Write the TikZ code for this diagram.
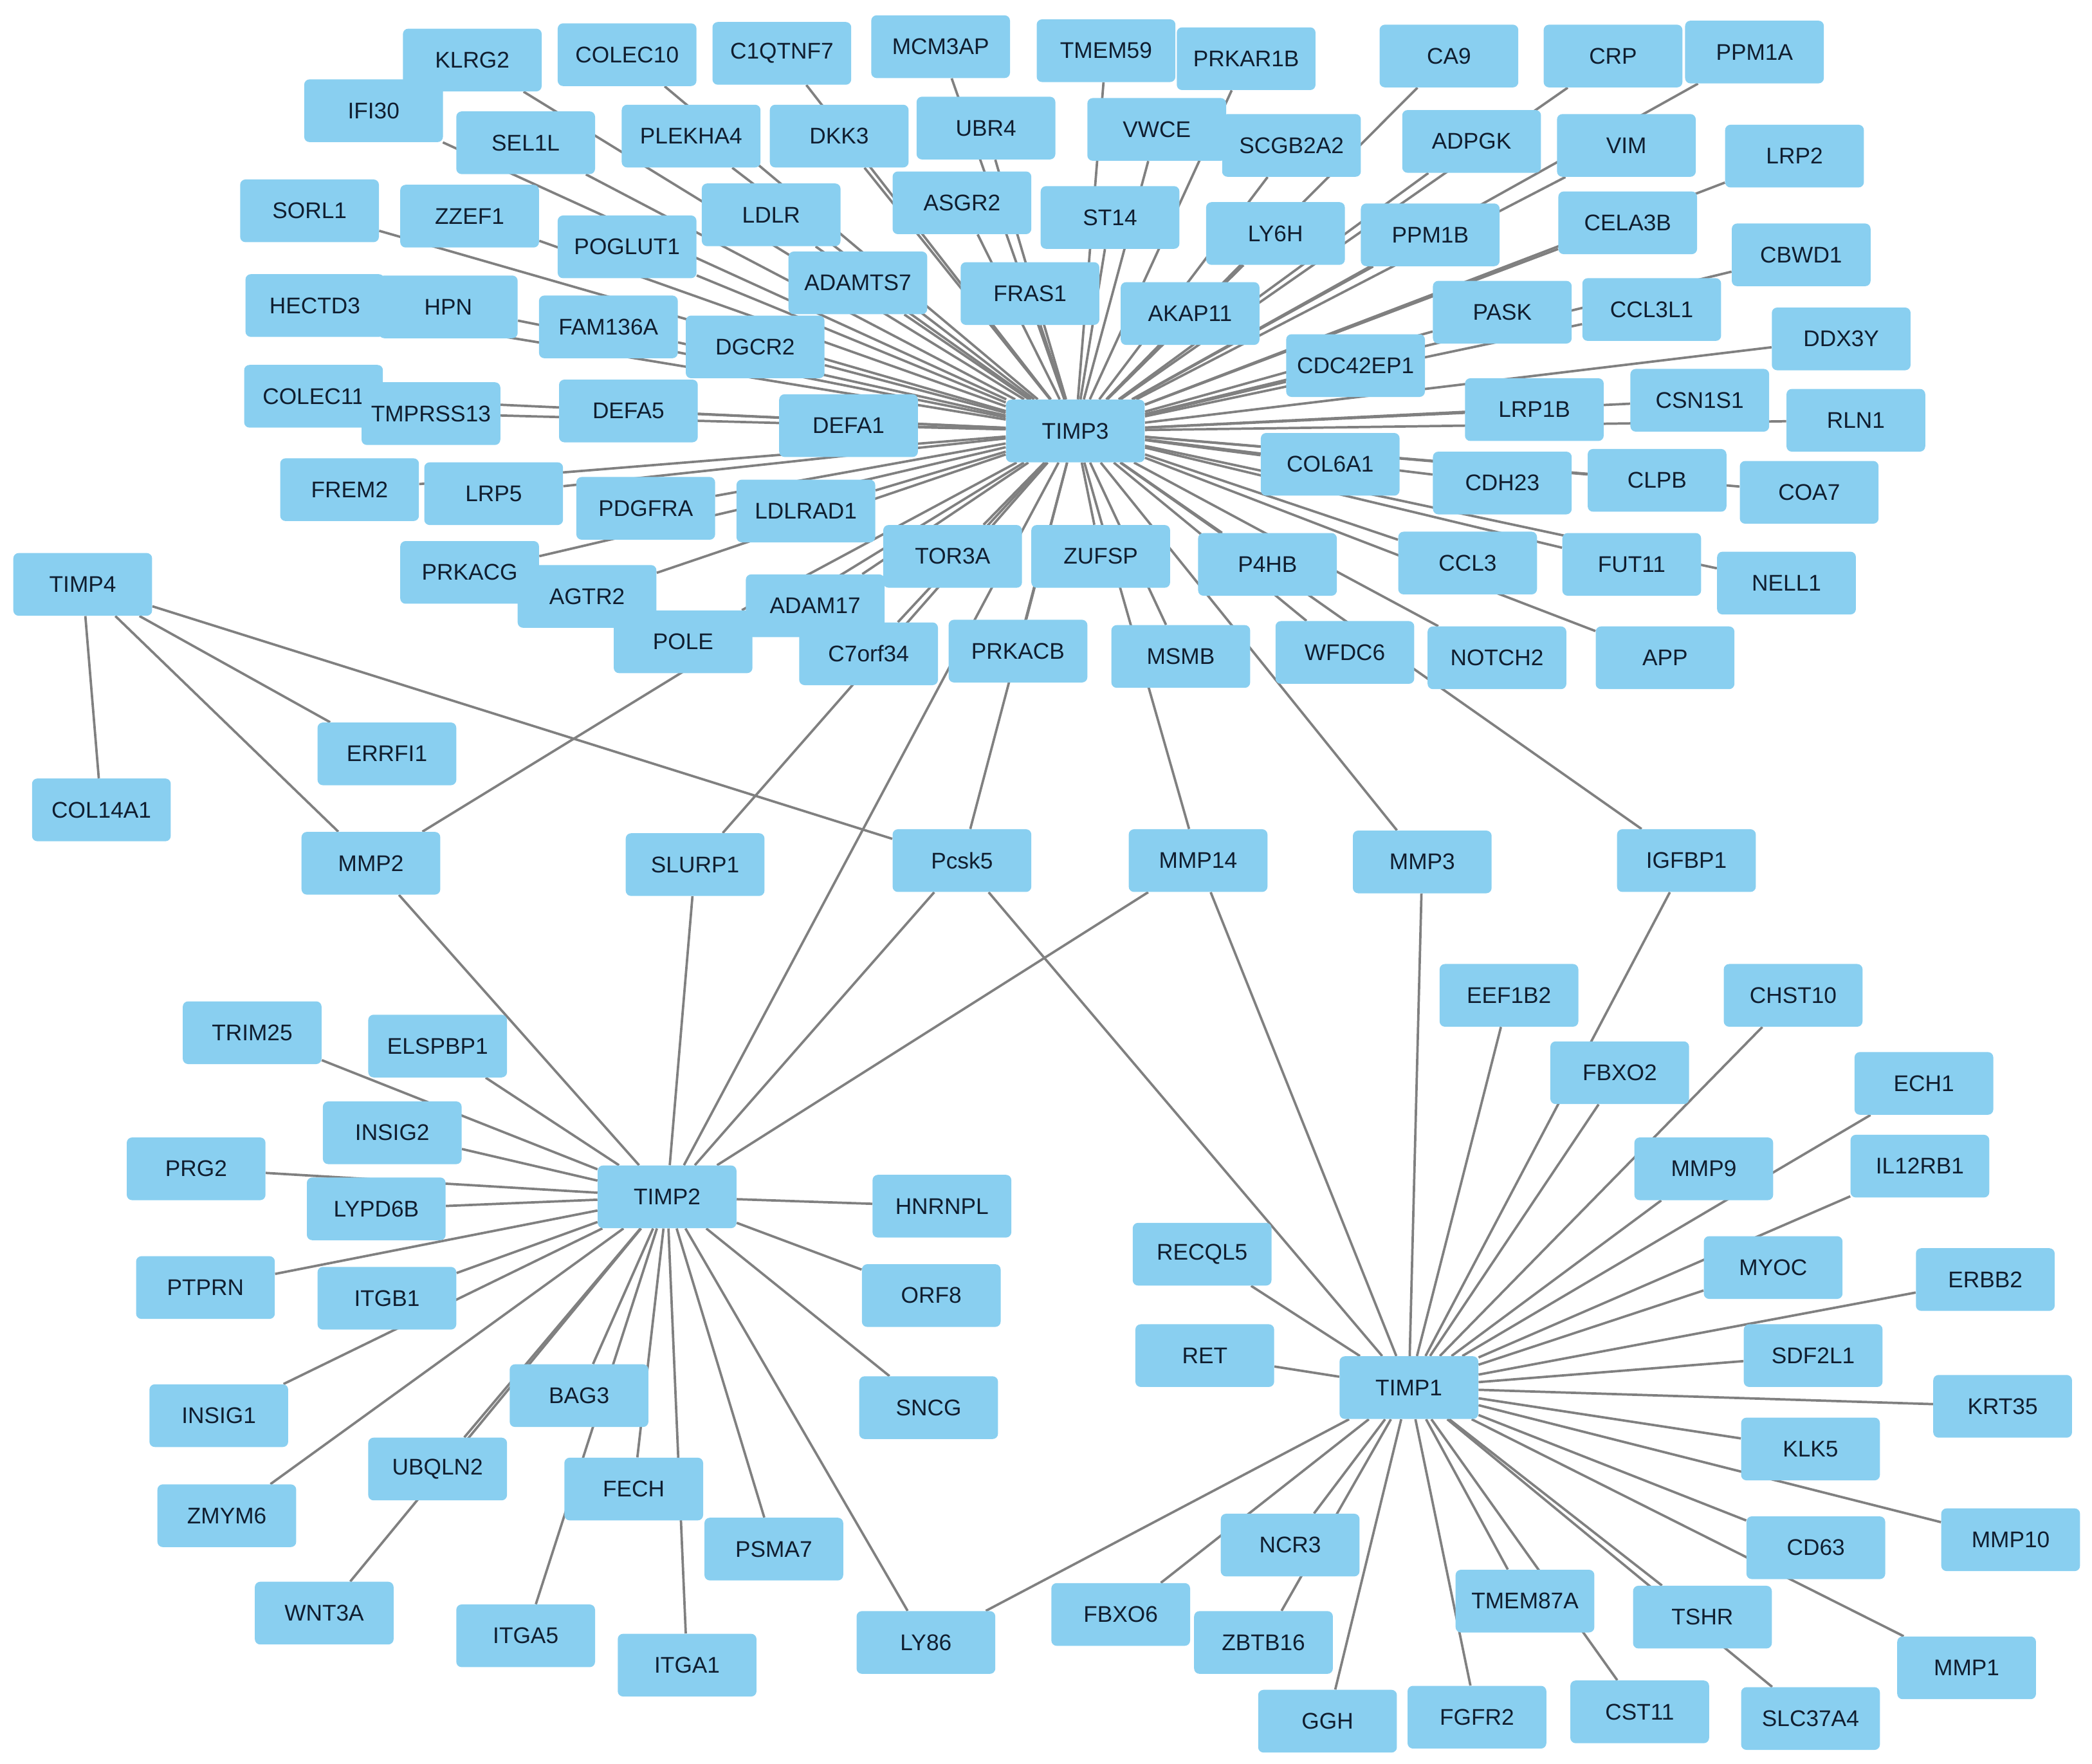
\documentclass[tikz,border=0pt]{standalone}
\usepackage{fontspec}
\setmainfont{Liberation Sans}
\usetikzlibrary{backgrounds}

\definecolor{genefill}{RGB}{137,207,240}
\definecolor{genetext}{RGB}{16,30,48}
\definecolor{linkgray}{RGB}{128,128,128}

\begin{document}
\begin{tikzpicture}[x=1pt, y=-1pt,
    gene/.style={rectangle, rounded corners=4pt, fill=genefill, text=genetext,
                 minimum width=104pt, minimum height=47pt, inner sep=0pt,
                 font=\fontsize{17}{20}\selectfont},
    link/.style={every edge/.style={draw=linkgray, line width=1.8pt}}]
    \useasboundingbox (0,0) rectangle (1568,1322);

    % Nodes {TIMP3 and its partners}
    \node [gene] (TIMP3)    at (806,323)  {TIMP3};
    \node [gene] (IFI30)    at (280,83)   {IFI30};
    \node [gene] (KLRG2)    at (354,45)   {KLRG2};
    \node [gene] (COLEC10)  at (470,41)   {COLEC10};
    \node [gene] (C1QTNF7)  at (586,40)   {C1QTNF7};
    \node [gene] (MCM3AP)   at (705,35)   {MCM3AP};
    \node [gene] (TMEM59)   at (829,38)   {TMEM59};
    \node [gene] (PRKAR1B)  at (934,44)   {PRKAR1B};
    \node [gene] (CA9)      at (1086,42)  {CA9};
    \node [gene] (CRP)      at (1209,42)  {CRP};
    \node [gene] (PPM1A)    at (1315,39)  {PPM1A};
    \node [gene] (SEL1L)    at (394,107)  {SEL1L};
    \node [gene] (PLEKHA4)  at (518,102)  {PLEKHA4};
    \node [gene] (DKK3)     at (629,102)  {DKK3};
    \node [gene] (UBR4)     at (739,96)   {UBR4};
    \node [gene] (VWCE)     at (867,97)   {VWCE};
    \node [gene] (SCGB2A2)  at (968,109)  {SCGB2A2};
    \node [gene] (ADPGK)    at (1103,106) {ADPGK};
    \node [gene] (VIM)      at (1219,109) {VIM};
    \node [gene] (LRP2)     at (1345,117) {LRP2};
    \node [gene] (SORL1)    at (232,158)  {SORL1};
    \node [gene] (ZZEF1)    at (352,162)  {ZZEF1};
    \node [gene] (POGLUT1)  at (470,185)  {POGLUT1};
    \node [gene] (LDLR)     at (578,161)  {LDLR};
    \node [gene] (ASGR2)    at (721,152)  {ASGR2};
    \node [gene] (ST14)     at (832,163)  {ST14};
    \node [gene] (LY6H)     at (956,175)  {LY6H};
    \node [gene] (PPM1B)    at (1072,176) {PPM1B};
    \node [gene] (CELA3B)   at (1220,167) {CELA3B};
    \node [gene] (CBWD1)    at (1350,191) {CBWD1};
    \node [gene] (HECTD3)   at (236,229)  {HECTD3};
    \node [gene] (HPN)      at (336,230)  {HPN};
    \node [gene] (FAM136A)  at (456,245)  {FAM136A};
    \node [gene] (ADAMTS7)  at (643,212)  {ADAMTS7};
    \node [gene] (FRAS1)    at (772,220)  {FRAS1};
    \node [gene] (AKAP11)   at (892,235)  {AKAP11};
    \node [gene] (DGCR2)    at (566,260)  {DGCR2};
    \node [gene] (CDC42EP1) at (1016,274) {CDC42EP1};
    \node [gene] (PASK)     at (1126,234) {PASK};
    \node [gene] (CCL3L1)   at (1238,232) {CCL3L1};
    \node [gene] (DDX3Y)    at (1380,254) {DDX3Y};
    \node [gene] (COLEC11)  at (235,297)  {COLEC11};
    \node [gene] (TMPRSS13) at (323,310)  {TMPRSS13};
    \node [gene] (DEFA5)    at (471,308)  {DEFA5};
    \node [gene] (DEFA1)    at (636,319)  {DEFA1};
    \node [gene] (LRP1B)    at (1150,307) {LRP1B};
    \node [gene] (CSN1S1)   at (1274,300) {CSN1S1};
    \node [gene] (RLN1)     at (1391,315) {RLN1};
    \node [gene] (COL6A1)   at (997,348)  {COL6A1};
    \node [gene] (CDH23)    at (1126,362) {CDH23};
    \node [gene] (CLPB)     at (1242,360) {CLPB};
    \node [gene] (COA7)     at (1356,369) {COA7};
    \node [gene] (FREM2)    at (262,367)  {FREM2};
    \node [gene] (LRP5)     at (370,370)  {LRP5};
    \node [gene] (PDGFRA)   at (484,381)  {PDGFRA};
    \node [gene] (LDLRAD1)  at (604,383)  {LDLRAD1};
    \node [gene] (PRKACG)   at (352,429)  {PRKACG};
    \node [gene] (AGTR2)    at (440,447)  {AGTR2};
    \node [gene] (TOR3A)    at (714,417)  {TOR3A};
    \node [gene] (ZUFSP)    at (825,417)  {ZUFSP};
    \node [gene] (P4HB)     at (950,423)  {P4HB};
    \node [gene] (CCL3)     at (1100,422) {CCL3};
    \node [gene] (FUT11)    at (1223,423) {FUT11};
    \node [gene] (NELL1)    at (1339,437) {NELL1};
    \node [gene] (ADAM17)   at (611,454)  {ADAM17};
    \node [gene] (POLE)     at (512,481)  {POLE};
    \node [gene] (C7orf34)  at (651,490)  {C7orf34};
    \node [gene] (PRKACB)   at (763,488)  {PRKACB};
    \node [gene] (MSMB)     at (885,492)  {MSMB};
    \node [gene] (WFDC6)    at (1008,489) {WFDC6};
    \node [gene] (NOTCH2)   at (1122,493) {NOTCH2};
    \node [gene] (APP)      at (1248,493) {APP};

    % Nodes {linking row}
    \node [gene] (TIMP4)    at (62,438)   {TIMP4};
    \node [gene] (ERRFI1)   at (290,565)  {ERRFI1};
    \node [gene] (COL14A1)  at (76,607)   {COL14A1};
    \node [gene] (MMP2)     at (278,647)  {MMP2};
    \node [gene] (SLURP1)   at (521,648)  {SLURP1};
    \node [gene] (Pcsk5)    at (721,645)  {Pcsk5};
    \node [gene] (MMP14)    at (898,645)  {MMP14};
    \node [gene] (MMP3)     at (1066,646) {MMP3};
    \node [gene] (IGFBP1)   at (1264,645) {IGFBP1};

    % Nodes {TIMP2 and its partners}
    \node [gene] (TIMP2)    at (500,897)  {TIMP2};
    \node [gene] (TRIM25)   at (189,774)  {TRIM25};
    \node [gene] (ELSPBP1)  at (328,784)  {ELSPBP1};
    \node [gene] (INSIG2)   at (294,849)  {INSIG2};
    \node [gene] (PRG2)     at (147,876)  {PRG2};
    \node [gene] (LYPD6B)   at (282,906)  {LYPD6B};
    \node [gene] (HNRNPL)   at (706,904)  {HNRNPL};
    \node [gene] (PTPRN)    at (154,965)  {PTPRN};
    \node [gene] (ITGB1)    at (290,973)  {ITGB1};
    \node [gene] (ORF8)     at (698,971)  {ORF8};
    \node [gene] (BAG3)     at (434,1046) {BAG3};
    \node [gene] (INSIG1)   at (164,1061) {INSIG1};
    \node [gene] (SNCG)     at (696,1055) {SNCG};
    \node [gene] (UBQLN2)   at (328,1101) {UBQLN2};
    \node [gene] (FECH)     at (475,1116) {FECH};
    \node [gene] (ZMYM6)    at (170,1136) {ZMYM6};
    \node [gene] (PSMA7)    at (580,1161) {PSMA7};
    \node [gene] (WNT3A)    at (243,1209) {WNT3A};
    \node [gene] (ITGA5)    at (394,1226) {ITGA5};
    \node [gene] (ITGA1)    at (515,1248) {ITGA1};
    \node [gene] (LY86)     at (694,1231) {LY86};

    % Nodes {TIMP1 and its partners}
    \node [gene] (TIMP1)    at (1056,1040) {TIMP1};
    \node [gene] (EEF1B2)   at (1131,746)  {EEF1B2};
    \node [gene] (CHST10)   at (1344,746)  {CHST10};
    \node [gene] (FBXO2)    at (1214,804)  {FBXO2};
    \node [gene] (ECH1)     at (1442,812)  {ECH1};
    \node [gene] (MMP9)     at (1277,876)  {MMP9};
    \node [gene] (IL12RB1)  at (1439,874)  {IL12RB1};
    \node [gene] (RECQL5)   at (901,940)   {RECQL5};
    \node [gene] (MYOC)     at (1329,950)  {MYOC};
    \node [gene] (ERBB2)    at (1488,959)  {ERBB2};
    \node [gene] (RET)      at (903,1016)  {RET};
    \node [gene] (SDF2L1)   at (1359,1016) {SDF2L1};
    \node [gene] (KRT35)    at (1501,1054) {KRT35};
    \node [gene] (KLK5)     at (1357,1086) {KLK5};
    \node [gene] (NCR3)     at (967,1158)  {NCR3};
    \node [gene] (CD63)     at (1361,1160) {CD63};
    \node [gene] (MMP10)    at (1507,1154) {MMP10};
    \node [gene] (FBXO6)    at (840,1210)  {FBXO6};
    \node [gene] (ZBTB16)   at (947,1231)  {ZBTB16};
    \node [gene] (TMEM87A)  at (1143,1200) {TMEM87A};
    \node [gene] (TSHR)     at (1276,1212) {TSHR};
    \node [gene] (MMP1)     at (1474,1250) {MMP1};
    \node [gene] (GGH)      at (995,1290)  {GGH};
    \node [gene] (FGFR2)    at (1107,1287) {FGFR2};
    \node [gene] (CST11)    at (1229,1283) {CST11};
    \node [gene] (SLC37A4)  at (1357,1288) {SLC37A4};

    % Paths
    \begin{pgfonlayer}{background}
    \path [link] (TIMP3) edge (IFI30) edge (KLRG2) edge (COLEC10) edge (C1QTNF7)
        edge (MCM3AP) edge (TMEM59) edge (PRKAR1B) edge (CA9) edge (CRP) edge (PPM1A)
        edge (SEL1L) edge (PLEKHA4) edge (DKK3) edge (UBR4) edge (VWCE) edge (SCGB2A2)
        edge (ADPGK) edge (VIM) edge (LRP2) edge (SORL1) edge (ZZEF1) edge (POGLUT1)
        edge (LDLR) edge (ASGR2) edge (ST14) edge (LY6H) edge (PPM1B) edge (CELA3B)
        edge (CBWD1) edge (HECTD3) edge (HPN) edge (FAM136A) edge (ADAMTS7) edge (FRAS1)
        edge (AKAP11) edge (DGCR2) edge (CDC42EP1) edge (PASK) edge (CCL3L1) edge (DDX3Y)
        edge (COLEC11) edge (TMPRSS13) edge (DEFA5) edge (DEFA1) edge (LRP1B)
        edge (CSN1S1) edge (RLN1) edge (COL6A1) edge (CDH23) edge (CLPB) edge (COA7)
        edge (FREM2) edge (LRP5) edge (PDGFRA) edge (LDLRAD1) edge (PRKACG) edge (AGTR2)
        edge (TOR3A) edge (ZUFSP) edge (P4HB) edge (CCL3) edge (FUT11) edge (NELL1)
        edge (ADAM17) edge (POLE) edge (C7orf34) edge (PRKACB) edge (MSMB) edge (WFDC6)
        edge (NOTCH2) edge (APP)
        edge (MMP2) edge (SLURP1) edge (Pcsk5) edge (MMP14) edge (MMP3) edge (IGFBP1)
        edge (TIMP2);
    \path [link] (TIMP4) edge (COL14A1) edge (ERRFI1) edge (MMP2) edge (Pcsk5);
    \path [link] (TIMP2) edge (MMP2) edge (SLURP1) edge (Pcsk5) edge (MMP14)
        edge (TRIM25) edge (ELSPBP1) edge (INSIG2) edge (PRG2) edge (LYPD6B)
        edge (HNRNPL) edge (PTPRN) edge (ITGB1) edge (ORF8) edge (BAG3) edge (INSIG1)
        edge (SNCG) edge (UBQLN2) edge (FECH) edge (ZMYM6) edge (PSMA7) edge (WNT3A)
        edge (ITGA5) edge (ITGA1) edge (LY86);
    \path [link] (TIMP1) edge (Pcsk5) edge (MMP14) edge (MMP3) edge (IGFBP1)
        edge (EEF1B2) edge (CHST10) edge (FBXO2) edge (ECH1) edge (MMP9) edge (IL12RB1)
        edge (RECQL5) edge (MYOC) edge (ERBB2) edge (RET) edge (SDF2L1) edge (KRT35)
        edge (KLK5) edge (NCR3) edge (CD63) edge (MMP10) edge (FBXO6) edge (ZBTB16)
        edge (TMEM87A) edge (TSHR) edge (MMP1) edge (GGH) edge (FGFR2) edge (CST11)
        edge (SLC37A4) edge (LY86);
    \end{pgfonlayer}
\end{tikzpicture}
\end{document}
